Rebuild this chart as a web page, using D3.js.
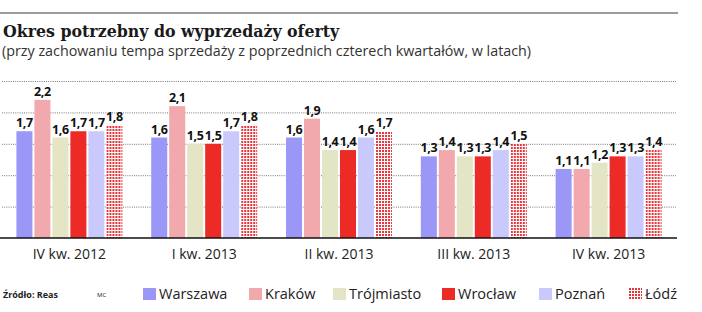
<!DOCTYPE html>
<html>
<head>
<meta charset="utf-8">
<script src="https://cdn.jsdelivr.net/npm/d3@7"></script>
<style>
  body { margin: 0; background: #fff; }
  svg { display: block; }
</style>
</head>
<body>
<svg id="chart"></svg>
<script>
// chart data
const quarters = ["IV kw. 2012", "I kw. 2013", "II kw. 2013", "III kw. 2013", "IV kw. 2013"];
const cities = ["Warszawa", "Kraków", "Trójmiasto", "Wrocław", "Poznań", "Łódź"];
const warszawa = [1.7, 1.6, 1.6, 1.3, 1.1];
const krakow = [2.2, 2.1, 1.9, 1.4, 1.1];
const trojmiasto = [1.6, 1.5, 1.4, 1.3, 1.2];
const wroclaw = [1.7, 1.5, 1.4, 1.3, 1.3];
const poznan = [1.7, 1.7, 1.6, 1.4, 1.3];
const lodz = [1.8, 1.8, 1.7, 1.5, 1.4];
const gridTicks = [0.5, 1, 1.5, 2, 2.5];

const seriesValues = [warszawa, krakow, trojmiasto, wroclaw, poznan, lodz];
const colors = ["#9b97f6", "#f1a9ae", "#e3e5c4", "#ec2a26", "#c9cafb", "url(#dots)"];

const width = 702;
const height = 312;
const plot = { left: 2, right: 676, top: 81, bottom: 238 };

const svg = d3.select("#chart").attr("width", width).attr("height", height);

// pattern for Łódź
const pat = svg.append("defs").append("pattern")
  .attr("id", "dots")
  .attr("width", 3).attr("height", 3)
  .attr("patternUnits", "userSpaceOnUse");
pat.append("rect").attr("width", 3).attr("height", 3).attr("fill", "#fff");
pat.append("rect").attr("width", 2).attr("height", 2).attr("fill", "#e8353a");

// top rule
svg.append("line")
  .attr("x1", 0).attr("x2", 678).attr("y1", 13).attr("y2", 13)
  .attr("stroke", "#7a7a7a").attr("stroke-width", 1.5);

// title
svg.append("text")
  .attr("x", 3).attr("y", 37)
  .attr("font-family", "DejaVu Serif")
  .attr("font-weight", "bold")
  .attr("font-size", 15.8)
  .attr("fill", "#1a1a1a")
  .text("Okres potrzebny do wyprzedaży oferty");

svg.append("text")
  .attr("x", 2).attr("y", 56)
  .attr("font-family", "Open Sans")
  .attr("font-size", 14.3)
  .attr("fill", "#333")
  .text("(przy zachowaniu tempa sprzedaży z poprzednich czterech kwartałów, w latach)");

// scales
const x0 = d3.scaleBand()
  .domain(quarters)
  .range([plot.left, plot.right])
  .paddingInner(0.214)
  .paddingOuter(0.107);

const x1 = d3.scaleBand()
  .domain(cities)
  .range([0, x0.bandwidth()])
  .paddingInner(0.11);

const y = d3.scaleLinear()
  .domain([0, 2.5])
  .range([plot.bottom, plot.top]);

// dotted grid lines
svg.append("g")
  .attr("transform", `translate(${plot.left},0)`)
  .call(d3.axisLeft(y).tickValues(gridTicks).tickSize(-(plot.right - plot.left)).tickFormat(""))
  .call(g => g.select(".domain").remove())
  .call(g => g.selectAll("line")
    .attr("stroke", "#777")
    .attr("stroke-width", 1)
    .attr("stroke-dasharray", "1,1.2"));

// bars
const groups = svg.append("g").selectAll("g")
  .data(quarters)
  .join("g")
  .attr("transform", d => `translate(${x0(d)},0)`);

groups.selectAll("rect")
  .data((q, qi) => cities.map((c, ci) => ({ city: c, value: seriesValues[ci][qi], color: colors[ci] })))
  .join("rect")
  .attr("x", d => x1(d.city))
  .attr("y", d => y(d.value))
  .attr("width", x1.bandwidth())
  .attr("height", d => y(0) - y(d.value))
  .attr("fill", d => d.color);

// value labels
groups.selectAll("text")
  .data((q, qi) => cities.map((c, ci) => ({ city: c, value: seriesValues[ci][qi] })))
  .join("text")
  .attr("x", d => x1(d.city) + x1.bandwidth() / 2)
  .attr("y", d => y(d.value) - 4)
  .attr("text-anchor", "middle")
  .attr("font-family", "Open Sans")
  .attr("font-weight", "bold")
  .attr("font-size", 12.5)
  .attr("letter-spacing", -0.4)
  .attr("fill", "#111")
  .text(d => d3.format(".1f")(d.value).replace(".", ","));

// baseline and x axis labels
svg.append("g")
  .attr("transform", `translate(0,${plot.bottom})`)
  .call(d3.axisBottom(x0).tickSize(0).tickPadding(11))
  .call(g => g.select(".domain").attr("d", `M0,0H${plot.right + 1}`).attr("stroke", "#111").attr("stroke-width", 1.6))
  .call(g => g.selectAll("text")
    .attr("font-family", "Open Sans")
    .attr("font-size", 14)
    .attr("fill", "#222"));

// footer
svg.append("text")
  .attr("x", 3).attr("y", 298)
  .attr("font-family", "Open Sans")
  .attr("font-weight", "bold")
  .attr("font-size", 9)
  .attr("fill", "#222")
  .text("Źródło: Reas");

svg.append("text")
  .attr("x", 97).attr("y", 297)
  .attr("font-family", "Open Sans")
  .attr("font-size", 6)
  .attr("fill", "#222")
  .text("MC");

// legend
const legendX = [143, 249, 333, 442, 539, 629];
const legend = svg.append("g").selectAll("g")
  .data(cities)
  .join("g")
  .attr("transform", (d, i) => `translate(${legendX[i]},288)`);

legend.append("rect")
  .attr("width", 13).attr("height", 12)
  .attr("fill", (d, i) => colors[i]);

legend.append("text")
  .attr("x", 16).attr("y", 11)
  .attr("font-family", "Open Sans")
  .attr("font-size", 14.5)
  .attr("fill", "#222")
  .text(d => d);
</script>
</body>
</html>
